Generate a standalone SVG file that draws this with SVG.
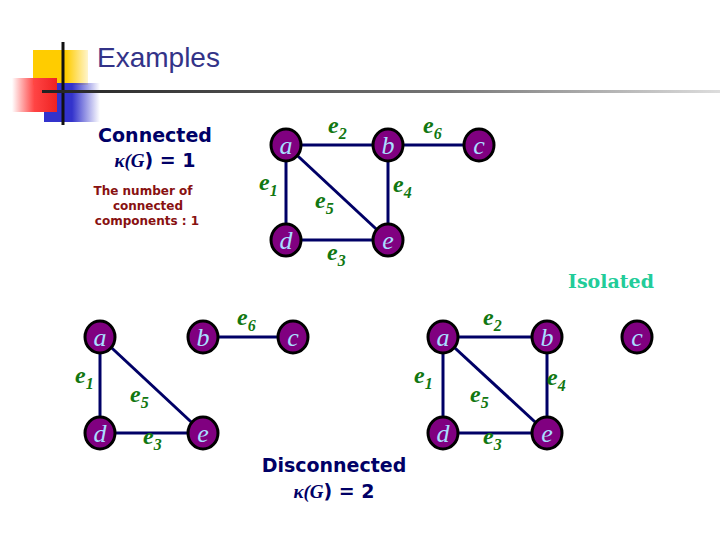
<svg xmlns="http://www.w3.org/2000/svg" width="720" height="540" viewBox="0 0 720 540">
<defs>
<linearGradient id="gr" x1="0" x2="1" y1="0" y2="0"><stop offset="0" stop-color="#ff3333" stop-opacity="0"/><stop offset="0.5" stop-color="#ff4444"/><stop offset="1" stop-color="#ee2222"/></linearGradient>
<linearGradient id="gb" x1="0" x2="1"><stop offset="0" stop-color="#3333cc"/><stop offset="0.5" stop-color="#3333cc"/><stop offset="1" stop-color="#3333cc" stop-opacity="0"/></linearGradient>
<linearGradient id="gy" x1="0" x2="1"><stop offset="0" stop-color="#ffcc00"/><stop offset="0.6" stop-color="#ffcc00"/><stop offset="1" stop-color="#ffcc00" stop-opacity="0.2"/></linearGradient>
<linearGradient id="gl" x1="0" x2="1"><stop offset="0" stop-color="#222"/><stop offset="0.6" stop-color="#777"/><stop offset="1" stop-color="#ddd"/></linearGradient>
</defs>
<style>
.n ellipse{fill:#800080;stroke:#000;stroke-width:3}
.n text{fill:#aaddff;font:italic 26px "Liberation Serif",serif;text-anchor:middle}
.el{fill:#117711;font:italic bold 24px "Liberation Serif",serif}
.el tspan{font-size:16px}
.ed line{stroke:#000066;stroke-width:3}
.t{font-family:"DejaVu Sans",sans-serif;font-weight:bold;fill:#000066;text-anchor:middle;font-size:19px}
.r{font-family:"DejaVu Sans",sans-serif;font-weight:bold;fill:#881111;font-size:12px;text-anchor:middle}
</style>
<rect width="720" height="540" fill="#fff"/>
<rect x="33" y="50" width="55" height="35" fill="url(#gy)"/>
<rect x="44" y="83" width="56" height="39" fill="url(#gb)"/>
<rect x="12" y="78" width="45" height="34" fill="url(#gr)"/>
<line x1="63" y1="42" x2="63" y2="125" stroke="#111" stroke-width="3"/>
<rect x="42" y="90" width="678" height="3" fill="url(#gl)"/>
<text x="97" y="67" font-family="Liberation Sans,sans-serif" font-size="28" fill="#333388">Examples</text>
<text class="t" x="155" y="142">Connected</text>
<text class="t" x="155" y="167"><tspan font-family="Liberation Serif,serif" font-style="italic">κ(G</tspan>) = 1</text>
<text class="r" x="143" y="195">The number of</text>
<text class="r" x="148" y="210">connected</text>
<text class="r" x="147" y="225">components : 1</text>
<text x="611" y="288" font-family="DejaVu Serif,serif" font-weight="bold" font-size="19" fill="#22cc99" text-anchor="middle">Isolated</text>
<text class="t" x="334" y="472">Disconnected</text>
<text class="t" x="334" y="498"><tspan font-family="Liberation Serif,serif" font-style="italic">κ(G</tspan>) = 2</text>
<g id="connectors" class="ed">
<line x1="286" y1="145" x2="479" y2="145"/><line x1="286" y1="145" x2="286" y2="240"/><line x1="286" y1="145" x2="388" y2="240"/><line x1="388" y1="145" x2="388" y2="240"/><line x1="286" y1="240" x2="388" y2="240"/>
<line x1="100" y1="337" x2="100" y2="433"/><line x1="100" y1="337" x2="203" y2="433"/><line x1="100" y1="433" x2="203" y2="433"/><line x1="203" y1="337" x2="293" y2="337"/>
<line x1="443" y1="337" x2="547" y2="337"/><line x1="443" y1="337" x2="443" y2="433"/><line x1="443" y1="337" x2="547" y2="433"/><line x1="547" y1="337" x2="547" y2="433"/><line x1="443" y1="433" x2="547" y2="433"/>
</g>
<g id="labels">
<text class="el" x="328" y="133">e<tspan dy="6">2</tspan></text>
<text class="el" x="423" y="133">e<tspan dy="6">6</tspan></text>
<text class="el" x="259" y="190">e<tspan dy="6">1</tspan></text>
<text class="el" x="315" y="208">e<tspan dy="6">5</tspan></text>
<text class="el" x="393" y="192">e<tspan dy="6">4</tspan></text>
<text class="el" x="327" y="260">e<tspan dy="6">3</tspan></text>
<text class="el" x="75" y="383">e<tspan dy="6">1</tspan></text>
<text class="el" x="130" y="402">e<tspan dy="6">5</tspan></text>
<text class="el" x="143" y="444">e<tspan dy="6">3</tspan></text>
<text class="el" x="237" y="325">e<tspan dy="6">6</tspan></text>
<text class="el" x="483" y="325">e<tspan dy="6">2</tspan></text>
<text class="el" x="414" y="383">e<tspan dy="6">1</tspan></text>
<text class="el" x="470" y="402">e<tspan dy="6">5</tspan></text>
<text class="el" x="547" y="385">e<tspan dy="6">4</tspan></text>
<text class="el" x="483" y="444">e<tspan dy="6">3</tspan></text>
</g>
<g id="n1a" class="n"><ellipse cx="286" cy="145" rx="15" ry="16"/><text x="286" y="154">a</text></g>
<g id="n1b" class="n"><ellipse cx="388" cy="145" rx="15" ry="16"/><text x="388" y="154">b</text></g>
<g id="n1c" class="n"><ellipse cx="479" cy="145" rx="15" ry="16"/><text x="479" y="154">c</text></g>
<g id="n1d" class="n"><ellipse cx="286" cy="240" rx="15" ry="16"/><text x="286" y="249">d</text></g>
<g id="n1e" class="n"><ellipse cx="388" cy="240" rx="15" ry="16"/><text x="388" y="249">e</text></g>
<g id="n2a" class="n"><ellipse cx="100" cy="337" rx="15" ry="16"/><text x="100" y="346">a</text></g>
<g id="n2b" class="n"><ellipse cx="203" cy="337" rx="15" ry="16"/><text x="203" y="346">b</text></g>
<g id="n2c" class="n"><ellipse cx="293" cy="337" rx="15" ry="16"/><text x="293" y="346">c</text></g>
<g id="n2d" class="n"><ellipse cx="100" cy="433" rx="15" ry="16"/><text x="100" y="442">d</text></g>
<g id="n2e" class="n"><ellipse cx="203" cy="433" rx="15" ry="16"/><text x="203" y="442">e</text></g>
<g id="n3a" class="n"><ellipse cx="443" cy="337" rx="15" ry="16"/><text x="443" y="346">a</text></g>
<g id="n3b" class="n"><ellipse cx="547" cy="337" rx="15" ry="16"/><text x="547" y="346">b</text></g>
<g id="n3c" class="n"><ellipse cx="637" cy="337" rx="15" ry="16"/><text x="637" y="346">c</text></g>
<g id="n3d" class="n"><ellipse cx="443" cy="433" rx="15" ry="16"/><text x="443" y="442">d</text></g>
<g id="n3e" class="n"><ellipse cx="547" cy="433" rx="15" ry="16"/><text x="547" y="442">e</text></g>
</svg>
